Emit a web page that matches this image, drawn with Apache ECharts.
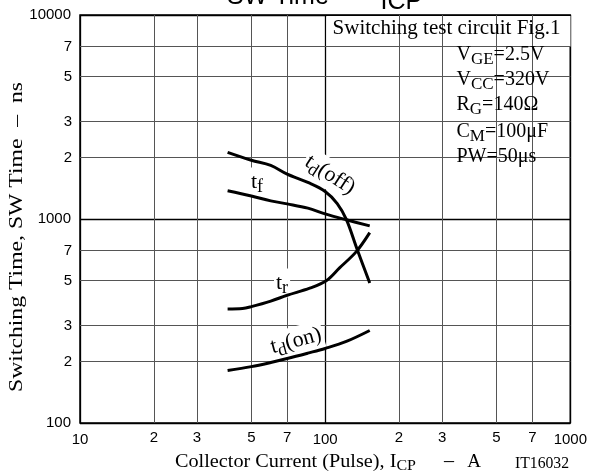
<!DOCTYPE html>
<html><head><meta charset="utf-8">
<script src="https://cdn.jsdelivr.net/npm/echarts@6/dist/echarts.min.js"></script>
<style>html,body{margin:0;padding:0;background:#fff}#c{width:590px;height:475px}</style>
</head><body><div id="c"></div>
<script>
// ---- data ----
const xTicks = [10,20,30,50,70,100,200,300,500,700,1000];
const xTickLabels = ['10','2','3','5','7','100','2','3','5','7','1000'];
const yTicks = [100,200,300,500,700,1000,2000,3000,5000,7000,10000];
const yTickLabels = ['100','2','3','5','7','1000','2','3','5','7','10000'];

const tdOffCurrent = [40,50,60,70,85,100,112,122,135,152];
const tdOffTime    = [2120,1940,1830,1660,1510,1365,1190,995,710,486];
const tfCurrent    = [40,50,60,70,85,100,122,152];
const tfTime       = [1376,1297,1227,1186,1130,1059,991,925];
const trCurrent    = [40,46,50,60,70,86.5,101,114.5,134,152];
const trTime       = [362,364,372,396,423,458,498,576,692,857];
const tdOnCurrent  = [40,50,60,70,85,100,122,152];
const tdOnTime     = [181,189,198,207,220,232,251,284];

const SERIF = 'Liberation Serif';
const SANS = 'Liberation Sans';

const mc = document.createElement('canvas').getContext('2d');
function measure(parts){ let w=0; parts.forEach(p=>{ mc.font = p[1]+'px "'+p[2]+'"'; w += mc.measureText(p[0]).width; }); return w; }

function zip(a,b){ return a.map((v,i)=>[v,b[i]]); }
function isMajor(v){ const l=Math.log10(v); return Math.abs(l-Math.round(l))<1e-9; }

const minorLines = [];
xTicks.forEach((v,i)=>{ if(!isMajor(v)) minorLines.push({xAxis:v, label:{formatter:xTickLabels[i], position:'start', distance:7}}); });
yTicks.forEach((v,i)=>{ if(!isMajor(v)) minorLines.push({yAxis:v, label:{formatter:yTickLabels[i], position:'start', distance:8}}); });
const labelOf = (ticks, labels) => v => { const i = ticks.findIndex(t=>Math.abs(t-v)/t<1e-6); return i>=0 ? labels[i] : ''; };

const curve = (data) => ({type:'line', data, showSymbol:false, smooth:0.35, z:10, silent:true,
  lineStyle:{color:'#000', width:3}, animation:false});

const richMain = (size) => ({ m:{fontSize:size, fontFamily:SERIF, fill:'#000'}, s:{fontSize:Math.round(size*0.8), fontFamily:SERIF, fill:'#000', padding:[Math.round(size*0.5),0,0,0]} });

const xTitleScale = 241/measure([['Collector Current (Pulse), I',19,SERIF],['CP',15,SERIF]]);
const yTitleText = 'Switching Time, SW Time  \u2013  ns';
const yTitleScale = 310/measure([[yTitleText,19,SERIF]]);
const boxTitleScale = 228/measure([['Switching test circuit Fig.1',21,SERIF]]);

const params = ['{m|V}{s|GE}{m|=2.5V}','{m|V}{s|CC}{m|=320V}','{m|R}{s|G}{m|=140\u03A9}','{m|C}{s|M}{m|=100\u03BCF}','{m|PW=50\u03BCs}'];
const paramY = [55,80,105,131.5,156.5];

const graphics = [
  {type:'rect', z:5, silent:true, shape:{x:326.5,y:16,width:244,height:30.5}, style:{fill:'#fff'}},
  {type:'rect', z:5, silent:true, shape:{x:450,y:46.5,width:116.5,height:122}, style:{fill:'#fff'}},
  {type:'text', z:6, silent:true, x:332.5, y:28, scaleX:boxTitleScale, style:{text:'Switching test circuit Fig.1', fontSize:21, fontFamily:SERIF, fill:'#000', align:'left', verticalAlign:'middle'}},
  // title (clipped at top)
  {type:'text', z:6, silent:true, x:227, y:-3, style:{text:'SW Time', fontSize:25, fontFamily:SANS, fill:'#000', align:'left', verticalAlign:'middle'}},
  {type:'text', z:6, silent:true, x:380.5, y:2.2, style:{text:'ICP', fontSize:25, fontFamily:SANS, fill:'#000', align:'left', verticalAlign:'middle'}},
  // axis titles
  {type:'text', z:6, silent:true, x:175, y:462, scaleX:xTitleScale, style:{text:'{m|Collector Current (Pulse), I}{s|CP}', rich:{m:{fontSize:19,fontFamily:SERIF,fill:'#000'}, s:{fontSize:15,fontFamily:SERIF,fill:'#000',padding:[8,0,0,0]}}, align:'left', verticalAlign:'middle'}},
  {type:'text', z:6, silent:true, x:449, y:462, style:{text:'\u2013', fontSize:20, fontFamily:SERIF, fill:'#000', align:'center', verticalAlign:'middle'}},
  {type:'text', z:6, silent:true, x:474, y:462, style:{text:'A', fontSize:19, fontFamily:SERIF, fill:'#000', align:'center', verticalAlign:'middle'}},
  {type:'text', z:6, silent:true, x:542, y:464, scaleX:54/measure([['IT16032',16,SERIF]]), style:{text:'IT16032', fontSize:16, fontFamily:SERIF, fill:'#000', align:'center', verticalAlign:'middle'}},
  {type:'text', z:6, silent:true, x:17.5, y:237, rotation:Math.PI/2, scaleX:yTitleScale, style:{text:yTitleText, fontSize:19, fontFamily:SERIF, fill:'#000', align:'center', verticalAlign:'middle'}},
  // curve labels
  {type:'text', z:6, silent:true, x:330, y:175, rotation:-33*Math.PI/180, style:{text:'{m|t}{s|d}{m|(off)}', rich:richMain(22), align:'center', verticalAlign:'middle', backgroundColor:'#fff', padding:[0,2]}},
  {type:'text', z:6, silent:true, x:249, y:182, style:{text:'{m|t}{s|f}', rich:richMain(22), align:'left', verticalAlign:'middle', backgroundColor:'#fff', padding:[0,2]}},
  {type:'text', z:6, silent:true, x:274, y:283, style:{text:'{m|t}{s|r}', rich:richMain(22), align:'left', verticalAlign:'middle', backgroundColor:'#fff', padding:[0,2]}},
  {type:'text', z:6, silent:true, x:296, y:341, rotation:15*Math.PI/180, style:{text:'{m|t}{s|d}{m|(on)}', rich:richMain(22), align:'center', verticalAlign:'middle', backgroundColor:'#fff', padding:[0,2]}}
];
params.forEach((t,i)=>graphics.push({type:'text', z:6, silent:true, x:456.5, y:paramY[i], style:{text:t, rich:{m:{fontSize:20,fontFamily:SERIF,fill:'#000'}, s:{fontSize:17,fontFamily:SERIF,fill:'#000',padding:[10,0,0,0]}}, align:'left', verticalAlign:'middle'}}));

const chart = echarts.init(document.getElementById('c'), null, {renderer:'canvas'});
chart.setOption({
  animation:false,
  backgroundColor:'#fff',
  grid:{left:80, right:19, top:15, bottom:52, show:true, borderColor:'#000', borderWidth:1.5, backgroundColor:'transparent'},
  xAxis:{type:'log', logBase:10, min:10, max:1000,
    axisLine:{show:false}, axisTick:{show:false},
    axisLabel:{color:'#000', fontSize:15, fontFamily:SANS, margin:9, formatter:labelOf(xTicks,xTickLabels)},
    splitLine:{show:true, lineStyle:{color:'#000', width:1.3}}},
  yAxis:{type:'log', logBase:10, min:100, max:10000,
    axisLine:{show:false}, axisTick:{show:false},
    axisLabel:{color:'#000', fontSize:15, fontFamily:SANS, margin:9, formatter:labelOf(yTicks,yTickLabels)},
    splitLine:{show:true, lineStyle:{color:'#000', width:1.3}}},
  series:[
    {type:'line', data:[], z:1, silent:true, animation:false,
     markLine:{silent:true, symbol:['none','none'], animation:false,
       lineStyle:{color:'#555', width:1, type:'solid'},
       label:{show:true, color:'#000', fontSize:15, fontFamily:SANS},
       emphasis:{disabled:true},
       data:minorLines}},
    Object.assign(curve(zip(tdOffCurrent,tdOffTime)), {name:'td(off)'}),
    Object.assign(curve(zip(tfCurrent,tfTime)), {name:'tf'}),
    Object.assign(curve(zip(trCurrent,trTime)), {name:'tr'}),
    Object.assign(curve(zip(tdOnCurrent,tdOnTime)), {name:'td(on)'})
  ],
  graphic:{elements:graphics}
});
</script></body></html>
